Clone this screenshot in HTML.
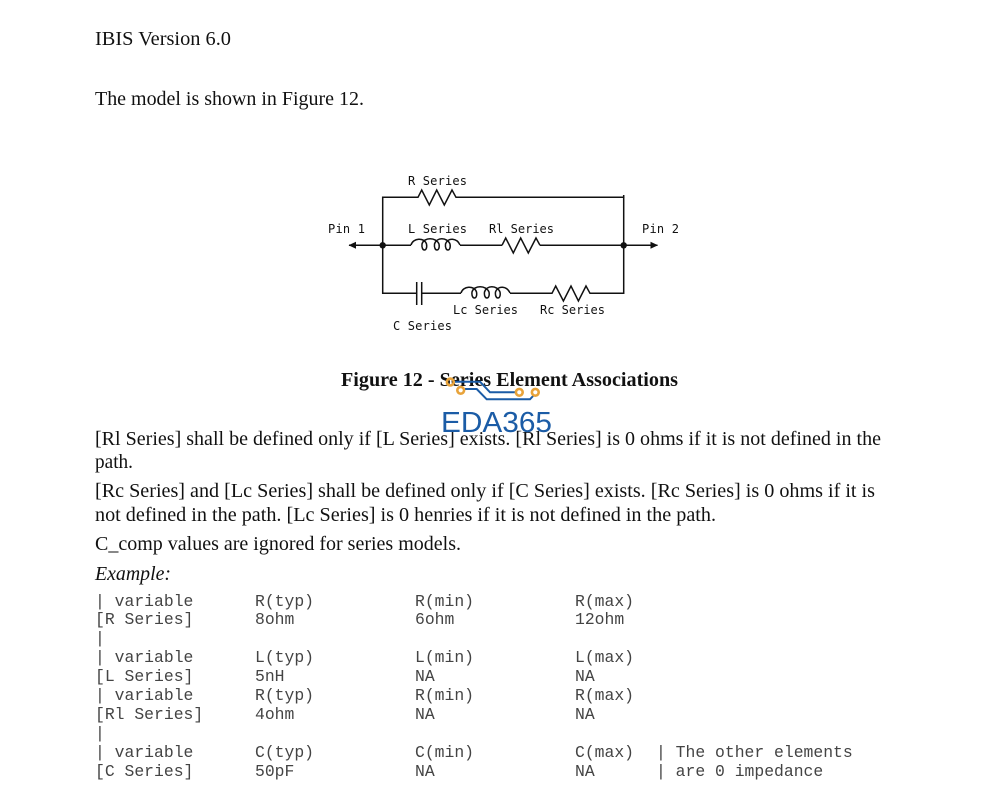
<!DOCTYPE html>
<html><head><meta charset="utf-8"><style>
html,body{margin:0;padding:0;background:#fff;width:996px;height:810px;overflow:hidden}
svg{display:block}
.s{font-family:"Liberation Serif",serif;font-size:20px;fill:#111}
.d{font-family:"DejaVu Sans Mono","Liberation Mono",monospace;font-size:12px;fill:#111}
.m{font-family:"Liberation Mono",monospace;font-size:16.4px;fill:#444}
.w{fill:none;stroke:#111;stroke-width:1.5}
</style></head><body>
<svg width="996" height="810" viewBox="0 0 996 810" xmlns="http://www.w3.org/2000/svg">
<rect width="996" height="810" fill="#fff"/>
<text class="s" x="95" y="45" textLength="136" lengthAdjust="spacingAndGlyphs">IBIS Version 6.0</text>
<text class="s" x="95" y="105" textLength="269" lengthAdjust="spacingAndGlyphs">The model is shown in Figure 12.</text>

<path class="w" d="M349 245.3H411M460 245.3H502M540 245.3H657.5"/>
<path class="w" d="M382.7 293.3V197.3H418L421.7 190L429.3 205L436.7 190L444.3 205L452 190L456 197.3H623.7V293.3H590L586 286L578.4 301L571 286L563.4 301L555.7 286L552 293.3H510M461 293.3H421.7M416.7 293.3H382.7V245.3"/>
<path class="w" d="M416.7 282V305M421.7 282V305M623.7 195V198"/>
<path class="w" d="M502 245.3L505.7 238L513.3 253L520.7 238L528.3 253L536 238L540 245.3"/>
<path class="w" d="M411 245 C413 238 424 237 426.5 244 C428 252 421 252 422 244 C424 237 436 237 439 244 C440.5 252 433.500 252 434.500 244 C436.500 237 447 237 450 244 C451.500 252 444.500 252 445.500 244 C448 237 457 238 460 245"/>
<path class="w" transform="translate(50,48)" d="M411 245 C413 238 424 237 426.5 244 C428 252 421 252 422 244 C424 237 436 237 439 244 C440.5 252 433.500 252 434.500 244 C436.500 237 447 237 450 244 C451.500 252 444.500 252 445.500 244 C448 237 457 238 460 245"/>
<circle cx="382.7" cy="245.3" r="3.2" fill="#111"/>
<circle cx="623.7" cy="245.3" r="3.2" fill="#111"/>
<path d="M348.5 245.3L356 241.8V248.8Z" fill="#111"/>
<path d="M658 245.3L650.5 241.8V248.8Z" fill="#111"/>

<text class="d" x="408" y="185" textLength="59">R Series</text>
<text class="d" x="328" y="233" textLength="37">Pin 1</text>
<text class="d" x="408" y="233" textLength="59">L Series</text>
<text class="d" x="489" y="233" textLength="65">Rl Series</text>
<text class="d" x="642" y="233" textLength="37">Pin 2</text>
<text class="d" x="453" y="314" textLength="65">Lc Series</text>
<text class="d" x="540" y="314" textLength="65">Rc Series</text>
<text class="d" x="393" y="330" textLength="59">C Series</text>

<text class="s" x="341" y="386" font-weight="bold" style="font-weight:bold" textLength="337" lengthAdjust="spacingAndGlyphs">Figure 12 - Series Element Associations</text>

<g fill="none" stroke="#1b5ca6" stroke-width="2">
<path d="M455 381.7H480L490 392.3H515"/>
<path d="M465 389H476.7L486.7 399.3H530L534 395"/>
</g>
<g fill="none" stroke="#e8a33a" stroke-width="2.6">
<circle cx="450.3" cy="382" r="3.4"/>
<circle cx="460.7" cy="390.3" r="3.4"/>
<circle cx="519.3" cy="392.3" r="3.4"/>
<circle cx="535.3" cy="392.3" r="3.4"/>
</g>

<text class="s" x="95" y="445" textLength="786" lengthAdjust="spacingAndGlyphs">[Rl Series] shall be defined only if [L Series] exists. [Rl Series] is 0 ohms if it is not defined in the</text>
<text class="s" x="95" y="468" textLength="38" lengthAdjust="spacingAndGlyphs">path.</text>
<text class="s" x="95" y="497" textLength="780" lengthAdjust="spacingAndGlyphs">[Rc Series] and [Lc Series] shall be defined only if [C Series] exists.  [Rc Series] is 0 ohms if it is</text>
<text class="s" x="95" y="521" textLength="621" lengthAdjust="spacingAndGlyphs">not defined in the path.  [Lc Series] is 0 henries if it is not defined in the path.</text>
<text class="s" x="95" y="550" textLength="366" lengthAdjust="spacingAndGlyphs">C_comp values are ignored for series models.</text>
<text class="s" x="95" y="580" font-style="italic" style="font-style:italic" textLength="76" lengthAdjust="spacingAndGlyphs">Example:</text>

<text x="441" y="432" font-family="Liberation Sans,sans-serif" font-size="29" fill="#1b5ca6" textLength="111" lengthAdjust="spacingAndGlyphs">EDA365</text>

<g>
<text class="m" x="95" y="606" xml:space="preserve">| variable</text><text class="m" x="255" y="606">R(typ)</text><text class="m" x="415" y="606">R(min)</text><text class="m" x="575" y="606">R(max)</text>
<text class="m" x="95" y="624">[R Series]</text><text class="m" x="255" y="624">8ohm</text><text class="m" x="415" y="624">6ohm</text><text class="m" x="575" y="624">12ohm</text>
<text class="m" x="95" y="643">|</text>
<text class="m" x="95" y="662" xml:space="preserve">| variable</text><text class="m" x="255" y="662">L(typ)</text><text class="m" x="415" y="662">L(min)</text><text class="m" x="575" y="662">L(max)</text>
<text class="m" x="95" y="681">[L Series]</text><text class="m" x="255" y="681">5nH</text><text class="m" x="415" y="681">NA</text><text class="m" x="575" y="681">NA</text>
<text class="m" x="95" y="700" xml:space="preserve">| variable</text><text class="m" x="255" y="700">R(typ)</text><text class="m" x="415" y="700">R(min)</text><text class="m" x="575" y="700">R(max)</text>
<text class="m" x="95" y="719">[Rl Series]</text><text class="m" x="255" y="719">4ohm</text><text class="m" x="415" y="719">NA</text><text class="m" x="575" y="719">NA</text>
<text class="m" x="95" y="738">|</text>
<text class="m" x="95" y="757" xml:space="preserve">| variable</text><text class="m" x="255" y="757">C(typ)</text><text class="m" x="415" y="757">C(min)</text><text class="m" x="575" y="757">C(max)</text><text class="m" x="656" y="757">| The other elements</text>
<text class="m" x="95" y="776">[C Series]</text><text class="m" x="255" y="776">50pF</text><text class="m" x="415" y="776">NA</text><text class="m" x="575" y="776">NA</text><text class="m" x="656" y="776">| are 0 impedance</text>
</g>
</svg>
</body></html>
